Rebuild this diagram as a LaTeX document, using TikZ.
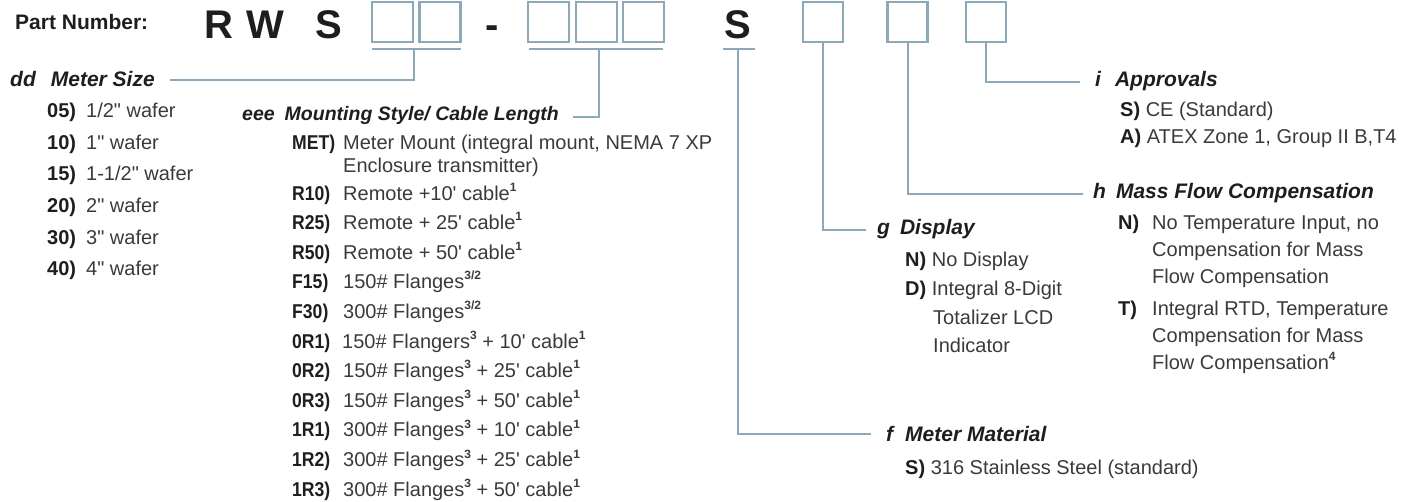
\documentclass[tikz,border=0pt]{standalone}
\usepackage{fontspec}
\setmainfont{Liberation Sans}
\newfontfamily\plainf{Liberation Sans}
\definecolor{lead}{HTML}{8DA8B6}
\definecolor{txt}{HTML}{3A3A3A}
\definecolor{hd}{HTML}{1E1E1E}
\tikzset{
  slot/.style={draw=lead, line width=2.4pt, minimum height=40pt, inner sep=0pt},
  leader/.style={draw=lead, line width=2pt},
  big/.style={anchor=base, font=\fontsize{40}{40}\selectfont\bfseries, text=hd, inner sep=0pt},
  head/.style={anchor=base west, font=\fontsize{21}{21}\selectfont\bfseries\itshape, text=hd, inner sep=0pt},
  item/.style={anchor=base west, font=\fontsize{20}{20}\selectfont, text=txt, inner sep=0pt},
}
\newcommand{\lb}[1]{{\bfseries\color{hd}#1}}
\newcommand{\lbn}[1]{{\bfseries\color{hd}\scalebox{0.88}[1]{#1}}}
\newcommand{\sps}[1]{\raisebox{0.45em}{\fontsize{12}{12}\selectfont\bfseries #1}}
\newcommand{\qd}{{\plainf\symbol{34}}}
\newcommand{\ap}{{\plainf\symbol{39}}}
\begin{document}
\begin{tikzpicture}[x=1pt,y=-1pt]
\useasboundingbox (0,0) rectangle (1422,502);
% part number
\node[anchor=base west, font=\fontsize{21}{21}\selectfont\bfseries, text=hd, inner sep=0pt] (pn) at (15,30) {Part Number:};
\node[big] (cR) at (219,39) {R};
\node[big] (cW) at (265,39) {W};
\node[big] (cS) at (329,39) {S};
\node[big] (dash) at (492,39) {-};
\node[big] (cS2) at (737.5,39) {S};
% boxes
\node[slot, minimum width=41pt] (b1) at (392.5,22) {};
\node[slot, minimum width=41pt] (b2) at (440,22) {};
\node[slot, minimum width=41pt] (b3) at (548.5,22) {};
\node[slot, minimum width=41pt] (b4) at (596.5,22) {};
\node[slot, minimum width=41pt] (b5) at (643.5,22) {};
\node[slot, minimum width=40pt] (b6) at (823,22) {};
\node[slot, minimum width=40pt] (b7) at (907.5,22) {};
\node[slot, minimum width=40pt] (b8) at (986,22) {};
% underline coordinates
\coordinate (u1a) at (372,49); \coordinate (u1b) at (461,49); \coordinate (u1m) at (414,49);
\coordinate (u2a) at (529,49); \coordinate (u2b) at (663,49); \coordinate (u2m) at (599,49);
\coordinate (u3a) at (723,49); \coordinate (u3b) at (755,49); \coordinate (u3m) at (738,49);
% headers
\node[head] (hdd) at (10,87) {dd\hspace{15pt}Meter Size};
\node[head, font=\fontsize{19.5}{19.5}\selectfont\bfseries\itshape] (hee) at (242,121) {eee\hspace{10pt}Mounting Style/ Cable Length};
\node[head] (hi) at (1095,87) {i\hspace{14pt}Approvals};
\node[head] (hh) at (1093,199) {h\hspace{10pt}Mass Flow Compensation};
\node[head] (hg) at (877,235) {g\hspace{10pt}Display};
\node[head] (hf) at (886,442) {f\hspace{12pt}Meter Material};
% leaders
\draw[leader] (u1a) -- (u1b);
\draw[leader] (u1m) |- ([xshift=15pt,yshift=-1pt]hdd.east);
\draw[leader] (u2a) -- (u2b);
\draw[leader] (u2m) |- ([xshift=14pt,yshift=-1pt]hee.east);
\draw[leader] (u3a) -- (u3b);
\draw[leader] (u3m) |- ([xshift=-15pt]hf.west);
\draw[leader] (b6.south) |- ([xshift=-11pt]hg.west);
\draw[leader] (b7.south) |- ([xshift=-10pt]hh.west);
\draw[leader] (b8.south) |- ([xshift=-15pt]hi.west);
% dd items
\node[item] (d05) at (47,118) {\makebox[39pt][l]{\lb{05)}}1/2\qd{} wafer};
\node[item] (d10) at (47,150) {\makebox[39pt][l]{\lb{10)}}1\qd{} wafer};
\node[item] (d15) at (47,181) {\makebox[39pt][l]{\lb{15)}}1-1/2\qd{} wafer};
\node[item] (d20) at (47,213) {\makebox[39pt][l]{\lb{20)}}2\qd{} wafer};
\node[item] (d30) at (47,245) {\makebox[39pt][l]{\lb{30)}}3\qd{} wafer};
\node[item] (d40) at (47,276) {\makebox[39pt][l]{\lb{40)}}4\qd{} wafer};
% eee items
\node[item] (eMET) at (292,150) {\makebox[51pt][l]{\lbn{MET)}}Meter Mount (integral mount, NEMA 7 XP};
\node[item] (eENC) at (343,173) {Enclosure transmitter)};
\node[item] (eR10) at (292,201) {\makebox[51pt][l]{\lbn{R10)}}Remote +10\ap{} cable\sps{1}};
\node[item] (eR25) at (292,230) {\makebox[51pt][l]{\lbn{R25)}}Remote + 25\ap{} cable\sps{1}};
\node[item] (eR50) at (292,260) {\makebox[51pt][l]{\lbn{R50)}}Remote + 50\ap{} cable\sps{1}};
\node[item] (eF15) at (292,289) {\makebox[51pt][l]{\lbn{F15)}}150\# Flanges\sps{3/2}};
\node[item] (eF30) at (292,319) {\makebox[51pt][l]{\lbn{F30)}}300\# Flanges\sps{3/2}};
\node[item] (e0R1) at (292,349) {\makebox[50pt][l]{\lbn{0R1)}}150\# Flangers\sps{3} + 10\ap{} cable\sps{1}};
\node[item] (e0R2) at (292,378) {\makebox[51pt][l]{\lbn{0R2)}}150\# Flanges\sps{3} + 25\ap{} cable\sps{1}};
\node[item] (e0R3) at (292,408) {\makebox[51pt][l]{\lbn{0R3)}}150\# Flanges\sps{3} + 50\ap{} cable\sps{1}};
\node[item] (e1R1) at (292,437) {\makebox[51pt][l]{\lbn{1R1)}}300\# Flanges\sps{3} + 10\ap{} cable\sps{1}};
\node[item] (e1R2) at (292,467) {\makebox[51pt][l]{\lbn{1R2)}}300\# Flanges\sps{3} + 25\ap{} cable\sps{1}};
\node[item] (e1R3) at (292,496) {\makebox[51pt][l]{\lbn{1R3)}}300\# Flanges\sps{3} + 50\ap{} cable\sps{1}};
% i items
\node[item] (iS) at (1120,117) {\lb{S)} CE (Standard)};
\node[item] (iA) at (1120,144) {\lb{A)} ATEX Zone 1, Group II B,T4};
% h items
\node[item] (hN) at (1118,230) {\makebox[34pt][l]{\lb{N)}}No Temperature Input, no};
\node[item] (hN2) at (1152,257) {Compensation for Mass};
\node[item] (hN3) at (1152,284) {Flow Compensation};
\node[item] (hT) at (1118,316) {\makebox[34pt][l]{\lb{T)}}Integral RTD, Temperature};
\node[item] (hT2) at (1152,343) {Compensation for Mass};
\node[item] (hT3) at (1152,370) {Flow Compensation\sps{4}};
% g items
\node[item] (gN) at (905,267) {\lb{N)} No Display};
\node[item] (gD) at (905,296) {\lb{D)} Integral 8-Digit};
\node[item] (gD2) at (933,325) {Totalizer LCD};
\node[item] (gD3) at (933,353) {Indicator};
% f items
\node[item] (fS) at (905,475) {\lb{S)} 316 Stainless Steel (standard)};
\end{tikzpicture}
\end{document}
